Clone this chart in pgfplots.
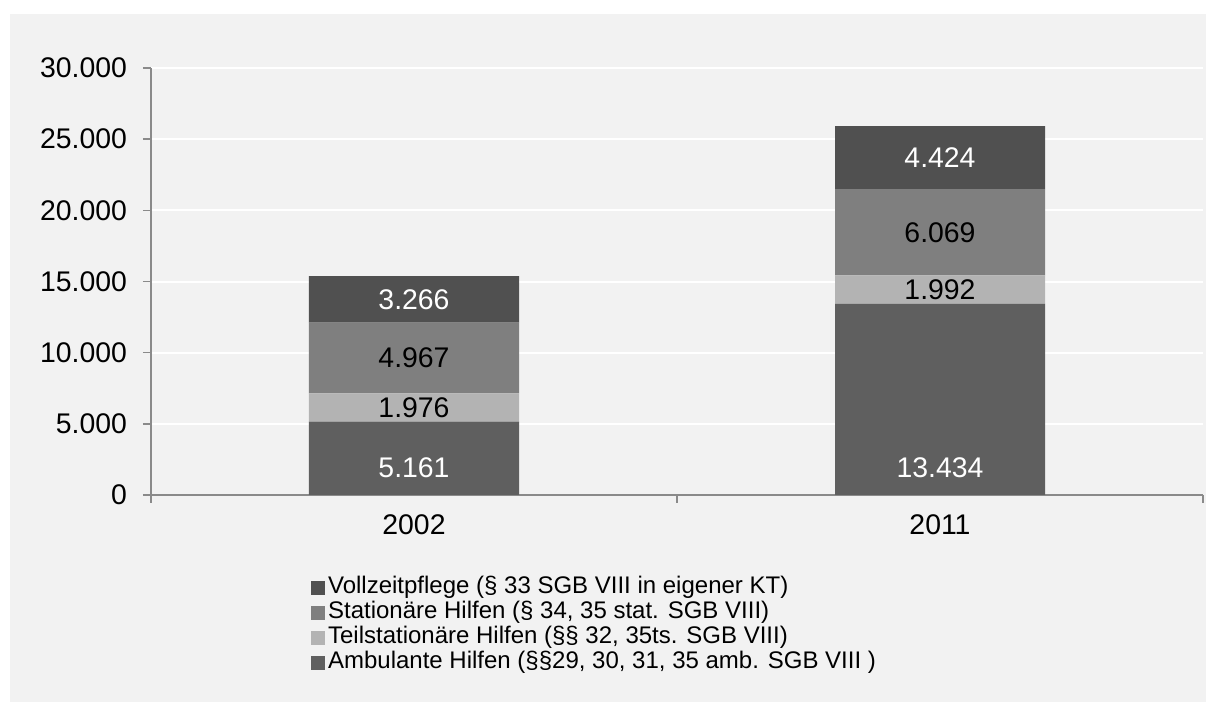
\documentclass[border=0pt]{standalone}
\usepackage{fontspec}
\setmainfont{Liberation Sans}
\usepackage{pgfplots}
\pgfplotsset{compat=1.18}
\usepackage{pgfplotstable}

\definecolor{bg}{HTML}{F2F2F2}
\definecolor{axisgray}{HTML}{8A8A8A}
\definecolor{cAmb}{HTML}{5F5F5F}
\definecolor{cTeil}{HTML}{B3B3B3}
\definecolor{cStat}{HTML}{7F7F7F}
\definecolor{cVoll}{HTML}{505050}

\pgfplotstableread{
x amb teil stat voll
0 5161 1976 4967 3266
1 13434 1992 6069 4424
}\data

% the labels of stacked bars come out centred in their segment here
\pgfplotsset{
  midlabel/.style={
    nodes near coords={\pgfmathprintnumber{\pgfplotspointmeta}},
    point meta=explicit,
    every node near coord/.append style={anchor=center, text=#1,
      font=\fontsize{14.2}{16}\selectfont}
  },
  baselabel/.style 2 args={
    nodes near coords={\pgfmathprintnumber{\pgfplotspointmeta}},
    point meta=explicit,
    visualization depends on={\thisrow{#1} \as \val},
    every node near coord/.append style={anchor=center, text=#2,
      font=\fontsize{14.2}{16}\selectfont,
      shift={(axis direction cs:0,{-\val/2})}, yshift=13.5pt}
  }
}

\begin{document}
\begin{tikzpicture}
\useasboundingbox (0,0) rectangle (603pt,351pt);
\fill[white] (0,0) rectangle (603pt,351pt);
\fill[bg] (5pt,0) rectangle (603pt,344pt);
\begin{axis}[
  at={(75.5pt,103.5pt)}, anchor=south west,
  scale only axis, width=526pt, height=213.5pt,
  ybar stacked, bar width=105pt,
  xmin=-0.5, xmax=1.5, ymin=0, ymax=30000,
  xtick={0,1}, xticklabels={2002,2011},
  minor xtick={-0.5,0.5,1.5},
  ytick={0,5000,...,30000},
  scaled y ticks=false,
  axis lines=left,
  axis line style={-, draw=axisgray, line width=0.8pt},
  tick align=outside,
  major tick length=4pt, minor tick length=4pt,
  major x tick style={draw=none},
  minor x tick style={draw=axisgray, line width=0.8pt},
  major y tick style={draw=axisgray, line width=0.8pt},
  ymajorgrids, major grid style={white, line width=1pt},
  tick label style={font=\fontsize{14.2}{16}\selectfont},
  yticklabel style={xshift=-4.5pt},
  xticklabel style={yshift=-2.5pt},
  /pgf/number format/.cd, 1000 sep={.}, assume math mode=true,
  /pgfplots/.cd,
  legend cell align=left,
  legend style={at={(0.152,-0.188)}, anchor=north west, draw=none, fill=none,
    inner sep=0pt, row sep=0pt,
    font=\fontsize{12}{13}\selectfont,
    nodes={inner xsep=1.5pt, inner ysep=0.6pt, text height=8.4pt, text depth=2.9pt}},
]
\addplot[fill=cAmb, draw=none, forget plot, baselabel={amb}{white}] table[x=x, y=amb, meta=amb] {\data};
\addplot[fill=cTeil, draw=none, forget plot, midlabel=black] table[x=x, y=teil, meta=teil] {\data};
\addplot[fill=cStat, draw=none, forget plot, midlabel=black] table[x=x, y=stat, meta=stat] {\data};
\addplot[fill=cVoll, draw=none, forget plot, midlabel=white] table[x=x, y=voll, meta=voll] {\data};
\addlegendimage{legend image code/.code={\fill[cVoll] (0pt,-3pt) rectangle (6.5pt,3.5pt);}}
\addlegendentry{Vollzeitpflege (§ 33 SGB VIII in eigener KT)}
\addlegendimage{legend image code/.code={\fill[cStat] (0pt,-3pt) rectangle (6.5pt,3.5pt);}}
\addlegendentry{Stationäre Hilfen (§ 34, 35 stat. SGB VIII)}
\addlegendimage{legend image code/.code={\fill[cTeil] (0pt,-3pt) rectangle (6.5pt,3.5pt);}}
\addlegendentry{Teilstationäre Hilfen (§§ 32, 35ts. SGB VIII)}
\addlegendimage{legend image code/.code={\fill[cAmb] (0pt,-3pt) rectangle (6.5pt,3.5pt);}}
\addlegendentry{Ambulante Hilfen (§§29, 30, 31, 35 amb. SGB VIII )}
\end{axis}
\end{tikzpicture}
\end{document}
